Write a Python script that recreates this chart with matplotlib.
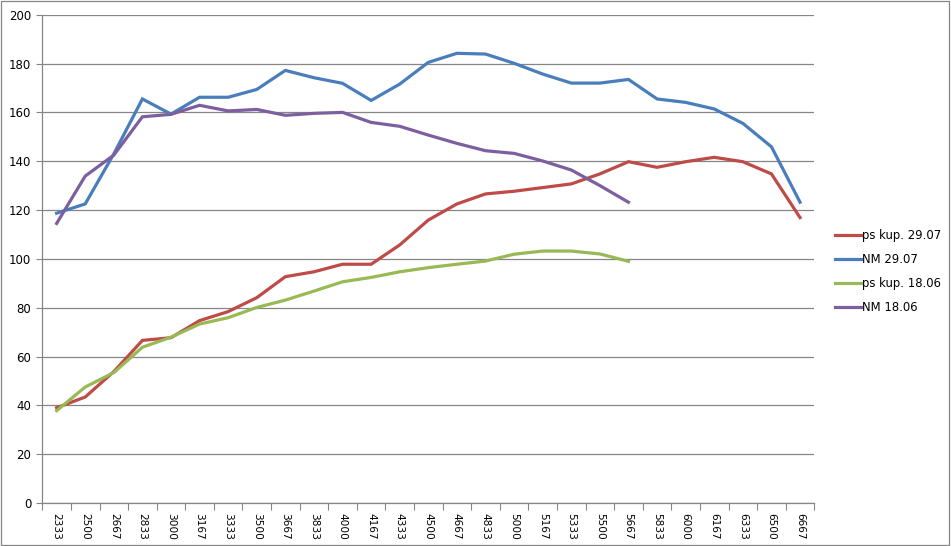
import matplotlib.pyplot as plt
import numpy as np
from matplotlib.patches import Rectangle

# ── data ─────────────────────────────────────────────────────────────────────
rpm = ["2333", "2500", "2667", "2833", "3000", "3167", "3333", "3500", "3667",
       "3833", "4000", "4167", "4333", "4500", "4667", "4833", "5000", "5167",
       "5333", "5500", "5667", "5833", "6000", "6167", "6333", "6500", "6667"]

ps_2907 = [39.0, 43.4, 53.8, 66.6, 67.7, 74.7, 78.4, 84.1, 92.7, 94.7, 97.8,
           97.8, 105.7, 115.9, 122.5, 126.6, 127.7, 129.2, 130.7, 134.8, 139.8,
           137.5, 139.8, 141.6, 139.8, 134.8, 116.9]
nm_2907 = [118.7, 122.5, 143.0, 165.5, 159.3, 166.2, 166.2, 169.4, 177.2, 174.2,
           171.9, 164.9, 171.6, 180.5, 184.2, 183.9, 180.1, 175.7, 172.0, 172.0,
           173.5, 165.5, 164.1, 161.4, 155.5, 145.9, 123.2]
ps_1806 = [37.8, 47.5, 53.4, 63.8, 67.9, 73.3, 75.9, 80.1, 83.1, 86.8, 90.6,
           92.4, 94.7, 96.4, 97.8, 99.1, 101.9, 103.2, 103.2, 102.0, 99.0]
nm_1806 = [114.5, 133.9, 142.5, 158.2, 159.2, 162.9, 160.6, 161.2, 158.8, 159.6,
           160.0, 155.9, 154.3, 150.7, 147.3, 144.3, 143.2, 140.1, 136.4, 130.0,
           123.2]

series = [
    ("ps kup. 29.07", ps_2907, "#BE4B48"),
    ("NM 29.07", nm_2907, "#4A7EBB"),
    ("ps kup. 18.06", ps_1806, "#98B954"),
    ("NM 18.06", nm_1806, "#7D5FA0"),
]

# ── plot ─────────────────────────────────────────────────────────────────────
fig = plt.figure(figsize=(9.51, 5.46), dpi=100)
ax = fig.add_axes([0.0445, 0.0788, 0.8118, 0.8942])

x = np.arange(len(rpm))
for label, vals, color in series:
    ax.plot(x[:len(vals)], vals, color=color, linewidth=2.3, label=label,
            solid_joinstyle="miter", zorder=3)

ax.set_xlim(-0.5, len(rpm) - 0.5)
ax.set_ylim(0, 200)
ax.set_yticks(np.arange(0, 201, 20))
ax.set_xticks(x)
ax.set_xticklabels(rpm, rotation=270, fontsize=7.6)
ax.set_xticks(np.arange(-0.5, len(rpm)), minor=True)
ax.tick_params(axis="x", which="major", length=0, pad=7)
ax.tick_params(axis="x", which="minor", length=5, color="#868686", width=0.8)
ax.tick_params(axis="y", length=4, color="#868686", width=0.8, labelsize=8.5, pad=4)

ax.grid(axis="y", color="#868686", linewidth=0.9, zorder=0)
for side in ["top", "right"]:
    ax.spines[side].set_visible(False)
for side in ["left", "bottom"]:
    ax.spines[side].set_color("#868686")
    ax.spines[side].set_linewidth(0.9)

ax.legend(loc="center left", bbox_to_anchor=(0.873, 0.503),
          bbox_transform=fig.transFigure, frameon=False, fontsize=8.4,
          handlelength=2.2, handletextpad=0.1, labelspacing=0.95,
          borderaxespad=0)

# chart-area border
fig.patches.append(Rectangle((0.001, 0.001), 0.997, 0.997, transform=fig.transFigure,
                             fill=False, edgecolor="#868686", linewidth=0.9))

fig.savefig("out.png", dpi=100)
